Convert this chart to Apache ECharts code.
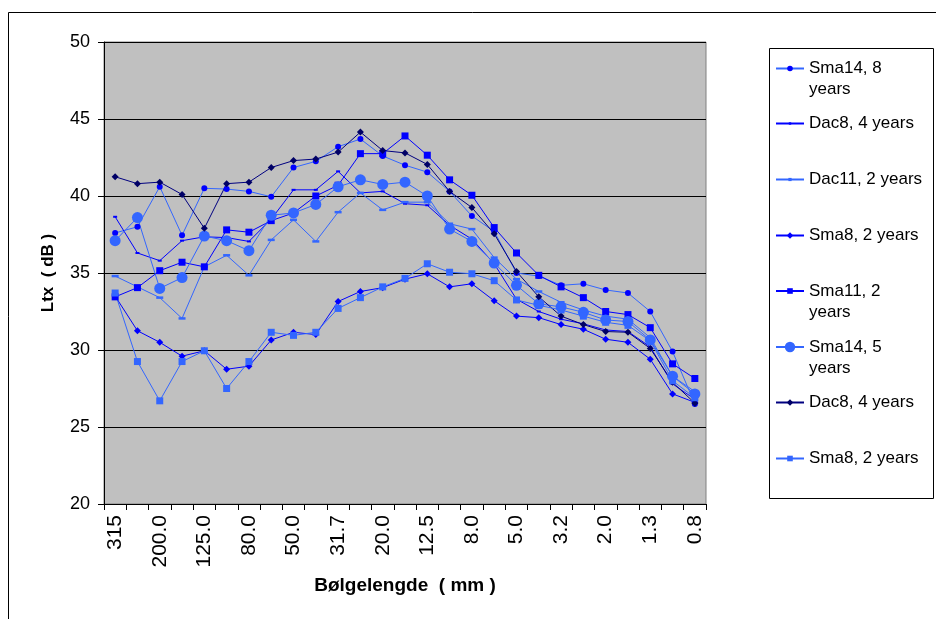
<!DOCTYPE html>
<html>
<head>
<meta charset="utf-8">
<script src="https://cdn.jsdelivr.net/npm/echarts@6/dist/echarts.min.js"></script>
<style>
html,body{margin:0;padding:0;background:#fff;}
#chart{width:936px;height:619px;}
</style>
</head>
<body>
<div id="chart"></div>
<script>
const categories = ['315','250.0','200.0','160.0','125.0','100.0','80.0','63.0','50.0','40.0','31.7','25.0','20.0','16.0','12.5','10.0','8.0','6.3','5.0','4.0','3.2','2.5','2.0','1.6','1.3','1.0','0.8'];

const sma14_8y = [37.6, 38.0, 40.6, 37.45, 40.5, 40.45, 40.3, 39.95, 41.85, 42.25, 43.2, 43.7, 42.6, 42.0, 41.55, 40.3, 38.7, 37.7, 35.0, 34.8, 34.2, 34.3, 33.9, 33.7, 32.5, 29.9, 26.5];
const dac8_4y_a = [38.65, 36.3, 35.8, 37.1, 37.35, 37.3, 37.05, 38.5, 40.4, 40.4, 41.6, 40.2, 40.3, 39.5, 39.4, 38.1, 37.2, 35.6, 33.3, 32.5, 32.0, 31.7, 31.3, 31.2, 30.2, 27.8, 26.8];
const dac11_2y = [34.8, 34.1, 33.4, 32.05, 35.4, 36.15, 34.85, 37.15, 38.45, 37.05, 38.95, 40.2, 39.1, 39.6, 39.6, 38.2, 37.85, 36.0, 34.6, 33.8, 33.1, 32.6, 32.2, 32.0, 30.8, 28.3, 27.3];
const sma8_2y_a = [33.5, 31.25, 30.5, 29.6, 29.95, 28.75, 28.95, 30.65, 31.15, 31.0, 33.15, 33.8, 34.05, 34.6, 34.95, 34.1, 34.3, 33.2, 32.2, 32.1, 31.65, 31.35, 30.7, 30.5, 29.4, 27.15, 26.6];
const sma11_2y = [33.45, 34.05, 35.15, 35.7, 35.4, 37.8, 37.65, 38.4, 38.9, 40.0, 40.7, 42.75, 42.75, 43.9, 42.65, 41.05, 40.05, 37.95, 36.3, 34.85, 34.1, 33.4, 32.5, 32.3, 31.45, 29.1, 28.15];
const sma14_5y = [37.1, 38.6, 34.0, 34.7, 37.4, 37.1, 36.45, 38.75, 38.9, 39.45, 40.6, 41.05, 40.75, 40.9, 40.0, 37.85, 37.05, 35.65, 34.2, 33.0, 32.8, 32.45, 31.95, 31.85, 30.65, 28.3, 27.15];
const dac8_4y_b = [41.25, 40.8, 40.9, 40.1, 37.9, 40.8, 40.9, 41.85, 42.3, 42.4, 42.85, 44.15, 42.95, 42.8, 42.05, 40.3, 39.25, 37.55, 35.1, 33.45, 32.2, 31.65, 31.2, 31.15, 30.1, 27.9, 26.55];
const sma8_2y_b = [33.7, 29.25, 26.7, 29.25, 29.95, 27.5, 29.25, 31.15, 30.95, 31.15, 32.7, 33.4, 34.1, 34.65, 35.6, 35.05, 34.95, 34.5, 33.25, 32.9, 32.6, 32.2, 31.8, 31.6, 30.6, 28.0, 26.9];

const seriesNames = ['Sma14, 8 years','Dac8, 4 years','Dac11, 2 years','Sma8, 2 years','Sma11, 2 years','Sma14, 5 years','Dac8, 4 years ','Sma8, 2 years '];
const legendLabels = ['Sma14, 8\nyears','Dac8, 4 years','Dac11, 2 years','Sma8, 2 years','Sma11, 2\nyears','Sma14, 5\nyears','Dac8, 4 years','Sma8, 2 years'];
const seriesData = [sma14_8y, dac8_4y_a, dac11_2y, sma8_2y_a, sma11_2y, sma14_5y, dac8_4y_b, sma8_2y_b];

const FONT = 'Liberation Sans, Arial, sans-serif';

const styles = [
  {line:'#3366FF', mark:'#0000FF', symbol:'circle', size:6, legH:7},
  {line:'#0000FF', mark:'#0000FF', symbol:'rect', size:[4,2], legH:3},
  {line:'#3366FF', mark:'#3366FF', symbol:'rect', size:[7,2.5], legH:4},
  {line:'#0000FF', mark:'#0000FF', symbol:'diamond', size:7, legH:8},
  {line:'#0000FF', mark:'#0000FF', symbol:'rect', size:7, legH:7},
  {line:'#3366FF', mark:'#3366FF', symbol:'circle', size:11, legH:13},
  {line:'#000080', mark:'#000066', symbol:'diamond', size:7, legH:8},
  {line:'#3366FF', mark:'#3366FF', symbol:'rect', size:7, legH:7}
];
const legendCenters = [68.5, 123.5, 179.5, 235.5, 291, 347, 402.5, 458.5];

const series = seriesData.map((d, i) => ({
  name: seriesNames[i],
  type: 'line',
  data: d,
  symbol: styles[i].symbol,
  symbolSize: styles[i].size,
  showAllSymbol: true,
  lineStyle: {color: styles[i].line, width: 1},
  itemStyle: {color: styles[i].mark, borderWidth: 0},
  emphasis: {disabled: true}
}));

const legends = seriesNames.map((n, i) => {
  const twoLine = legendLabels[i].indexOf('\n') >= 0;
  const lh = 21;
  // for two-line labels, a leading empty line keeps the first text line level with the icon
  const label = twoLine ? ' \n' + legendLabels[i] : legendLabels[i];
  const top = twoLine ? legendCenters[i] - 1.5 * lh : legendCenters[i] - lh / 2;
  return {
    data: [n],
    left: 775,
    top: top,
    padding: 0,
    itemWidth: 28,
    itemHeight: styles[i].legH,
    selectedMode: false,
    formatter: () => label,
    textStyle: {fontFamily: FONT, fontSize: 17, color: '#000', lineHeight: lh}
  };
});

const chart = echarts.init(document.getElementById('chart'), null, {renderer: 'canvas'});
chart.setOption({
  animation: false,
  backgroundColor: '#fff',
  graphic: [
    {type: 'rect', shape: {x: 8.5, y: 12.5, width: 1000, height: 700}, style: {fill: 'none', stroke: '#000', lineWidth: 1}, silent: true, z: -10},
    {type: 'rect', shape: {x: 769.5, y: 48.5, width: 164, height: 450}, style: {fill: '#fff', stroke: '#000', lineWidth: 1}, silent: true, z: -5}
  ],
  legend: legends,
  grid: {left: 104, top: 42, width: 602, height: 462, show: true, backgroundColor: '#C0C0C0', borderColor: '#808080', borderWidth: 1},
  xAxis: {
    type: 'category',
    data: categories,
    boundaryGap: true,
    name: 'Bølgelengde  ( mm )',
    nameLocation: 'middle',
    nameGap: 72,
    nameTextStyle: {fontFamily: FONT, fontSize: 19, fontWeight: 'bold', color: '#000'},
    axisLine: {lineStyle: {color: '#000', width: 1}},
    axisTick: {show: true, interval: 0, alignWithLabel: false, length: 6, lineStyle: {color: '#000'}},
    axisLabel: {interval: 1, rotate: 90, margin: 11, fontFamily: FONT, fontSize: 21, color: '#000'},
    splitLine: {show: false}
  },
  yAxis: {
    type: 'value',
    min: 20, max: 50, interval: 5,
    name: 'Ltx  ( dB )',
    nameLocation: 'middle',
    nameGap: 47,
    nameTextStyle: {fontFamily: FONT, fontSize: 17, fontWeight: 'bold', color: '#000'},
    axisLine: {show: true, lineStyle: {color: '#000', width: 1}},
    axisTick: {show: true, length: 6, lineStyle: {color: '#000'}},
    axisLabel: {margin: 14, fontFamily: FONT, fontSize: 18, color: '#000'},
    splitLine: {show: true, lineStyle: {color: '#000', width: 1}}
  },
  series: series
});
</script>
</body>
</html>
